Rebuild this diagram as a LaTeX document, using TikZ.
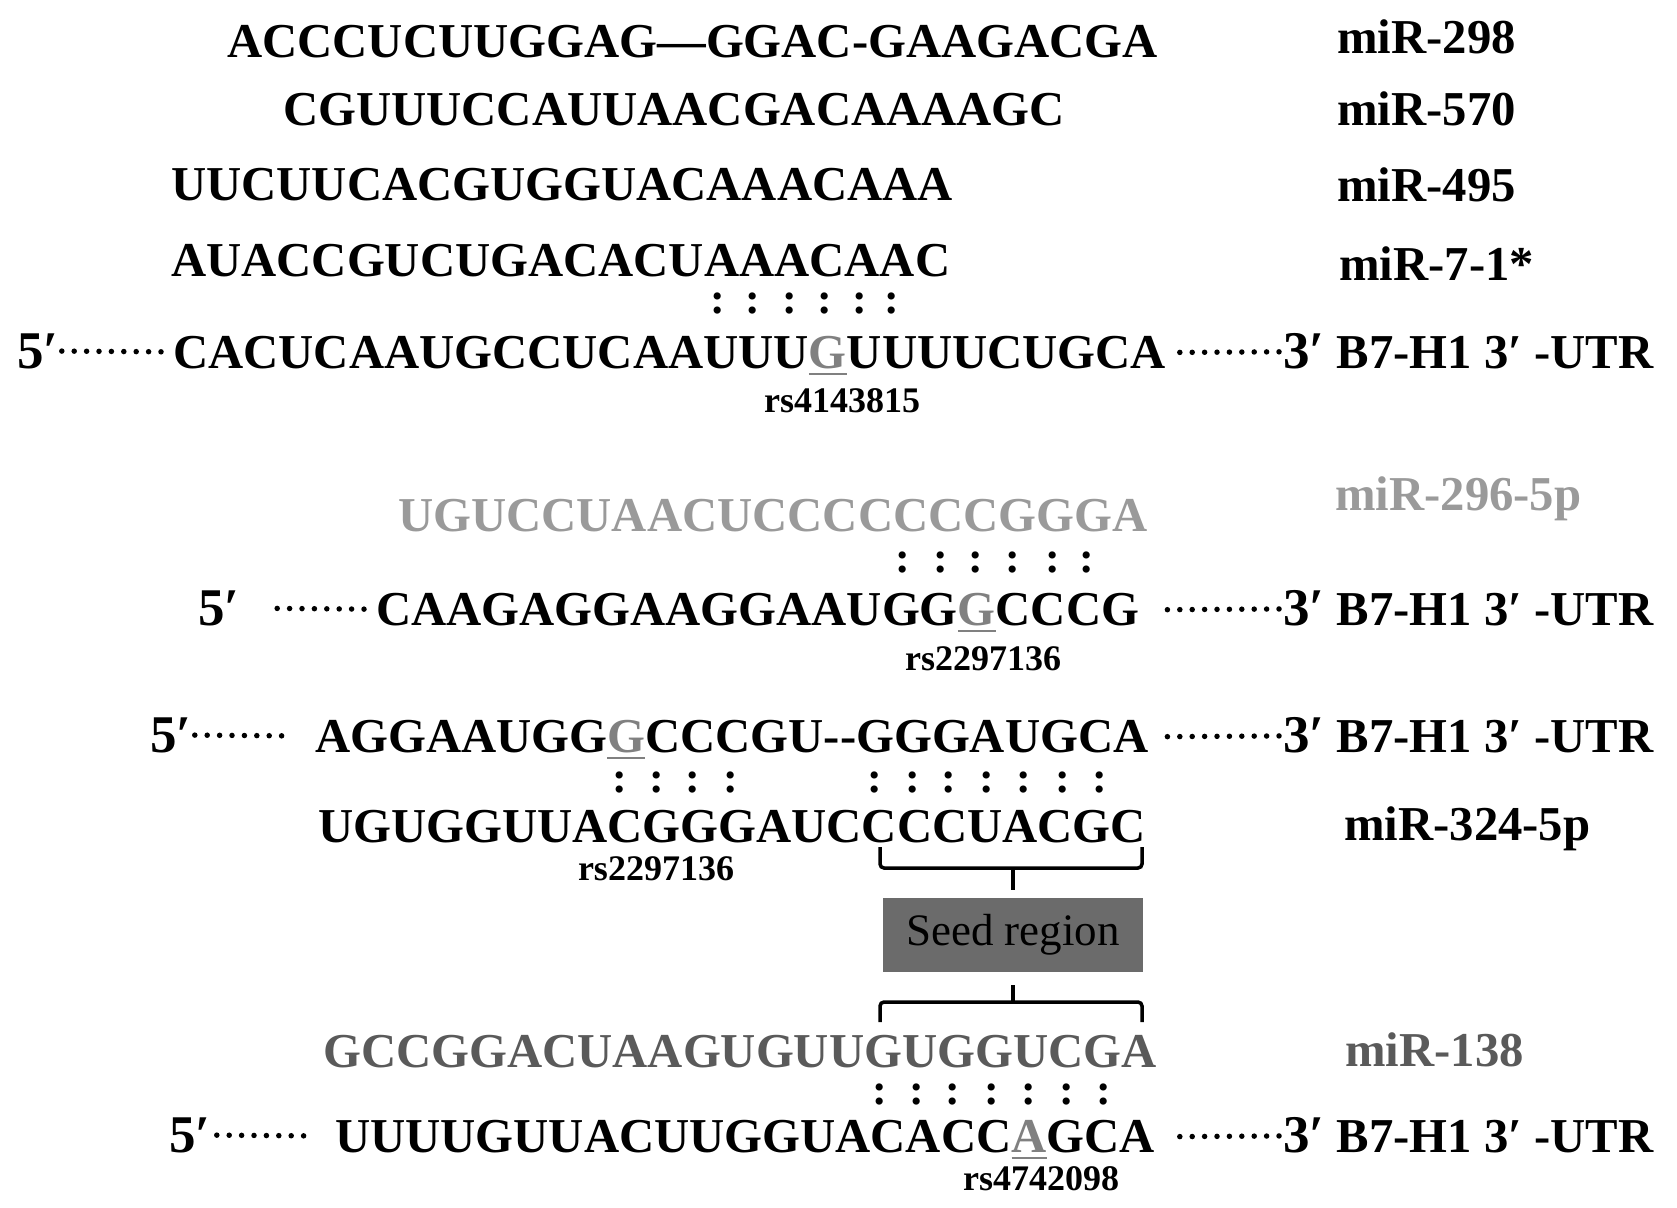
\documentclass[tikz,border=0pt]{standalone}
\usepackage{fontspec}
\setmainfont{Liberation Serif}
\usepackage{xcolor}
\usetikzlibrary{positioning}

\definecolor{mirlight}{HTML}{9A9A9A}
\definecolor{mirdark}{HTML}{5A5A5A}
\definecolor{snpgray}{HTML}{808080}
\definecolor{seedfill}{HTML}{6B6B6B}

% underlined SNP base
\newcommand{\snp}[1]{\textcolor{snpgray}{\setbox0=\hbox{#1}\rlap{\rule[-7pt]{\wd0}{2.5pt}}\box0}}

\begin{document}
\begin{tikzpicture}[
  x=1pt, y=-1pt,
  seq/.style={inner sep=0pt, anchor=base west, font=\fontsize{48.7}{50}\selectfont\bfseries},
  prime/.style={inner sep=0pt, anchor=base west, font=\fontsize{53}{55}\selectfont\bfseries},
  rsid/.style={inner sep=0pt, anchor=base, font=\fontsize{36}{38}\selectfont\bfseries},
  pair/.style={inner sep=0pt, font=\fontsize{44}{46}\selectfont\bfseries},
  leader/.style={line width=5.5pt, line cap=round, dash pattern=on 0pt off 12.4pt},
  brace/.style={line width=3.5pt, rounded corners=4pt},
  seedbox/.style={fill=seedfill, minimum width=260pt, minimum height=74pt, inner sep=0pt, font=\fontsize{45}{47}\selectfont}
]
\useasboundingbox (0,0) rectangle (1677,1207);

% first block: four miRNAs on rs4143815
\node[seq] (s298) at (227,58) {ACCCUCUUGGAG—GGAC-GAAGACGA};
\node[seq] (s570) at (283,125) {CGUUUCCAUUAACGACAAAAGC};
\node[seq] (s495) at (171,200) {UUCUUCACGUGGUACAAACAAA};
\node[seq] (s71) at (171,276) {AUACCGUCUGACACUAAACAAC};
\node[seq] (l298) at (1337,53) {miR-298};
\node[seq] (l570) at (1337,125) {miR-570};
\node[seq] (l495) at (1337,201) {miR-495};
\node[seq] (l71) at (1339,280) {miR-7-1*};
\foreach \x [count=\i] in {718,753,790,825,860,892}
  \node[pair] (pa\i) at (\x,303) {:};
\node[prime] (f5) at (17,368) {5′};
\node[seq] (s5) at (173,368) {CACUCAAUGCCUCAAUUU\snp{G}UUUUCUGCA};
\node[seq] (u5) at (1283,368) {{\fontsize{53}{55}\selectfont 3′} B7-H1 3′ -UTR};
\node[rsid] (r5) at (842,412) {rs4143815};
\draw[leader, shorten <=3pt, shorten >=10pt] (f5) -- (s5);
\draw[leader, shorten <=4pt, shorten >=12pt] (u5) -- (s5);

% miR-296-5p
\node[seq, mirlight] (s296) at (398,531) {UGUCCUAACUCCCCCCCGGGA};
\node[seq, mirlight] (l296) at (1335,510) {miR-296-5p};
\foreach \x [count=\i] in {903,941,976,1013,1053,1087}
  \node[pair] (pb\i) at (\x,562) {:};
\node[prime] (f7) at (198,625) {5′};
\node[seq] (s7) at (376,625) {CAAGAGGAAGGAAUGG\snp{G}CCCG};
\node[seq] (u7) at (1283,625) {{\fontsize{53}{55}\selectfont 3′} B7-H1 3′ -UTR};
\node[rsid] (r7) at (983,670) {rs2297136};
\draw[leader, shorten <=12pt, shorten >=30pt] (s7) -- (f7);
\draw[leader, shorten <=4pt, shorten >=22pt] (u7) -- (s7);

% miR-324-5p
\node[prime] (f8) at (150,752) {5′};
\node[seq] (s8) at (315,752) {AGGAAUGG\snp{G}CCCGU-{}-GGGAUGCA};
\node[seq] (u8) at (1283,752) {{\fontsize{53}{55}\selectfont 3′} B7-H1 3′ -UTR};
\draw[leader, shorten <=3pt, shorten >=21pt] (f8) -- (s8);
\draw[leader, shorten <=4pt, shorten >=14pt] (u8) -- (s8);
\foreach \x [count=\i] in {620,657,693,731,875,913,949,987,1024,1063,1100}
  \node[pair] (pc\i) at (\x,782) {:};
\node[seq] (s9) at (318,842) {UGUGGUUACGGGAUCCCCUACGC};
\node[seq] (l324) at (1344,840) {miR-324-5p};
\node[rsid] (r9) at (656,880) {rs2297136};

% seed region
\node[seedbox] (seed) at (1013,935) {Seed region};
\draw[brace] (880,847) |- (1142,868) -- (1142,847);
\draw[brace] (seed.north |- 0,868) -- (seed.north |- 0,890);
\draw[brace] (seed.south |- 0,985) -- (seed.south |- 0,1002);
\draw[brace] (880,1022) |- (1142,1002) -- (1142,1022);

% miR-138
\node[seq, mirdark] (s138) at (323,1067) {GCCGGACUAAGUGUUGUGGUCGA};
\node[seq, mirdark] (l138) at (1345,1066) {miR-138};
\foreach \x [count=\i] in {880,917,953,992,1029,1067,1104}
  \node[pair] (pd\i) at (\x,1094) {:};
\node[prime] (f11) at (169,1152) {5′};
\node[seq] (s11) at (335,1152) {UUUUGUUACUUGGUACACC\snp{A}GCA};
\node[seq] (u11) at (1283,1152) {{\fontsize{53}{55}\selectfont 3′} B7-H1 3′ -UTR};
\node[rsid] (r11) at (1041,1190) {rs4742098};
\draw[leader, shorten <=6pt, shorten >=19pt] (f11) -- (s11);
\draw[leader, shorten <=4pt, shorten >=23pt] (u11) -- (s11);
\end{tikzpicture}
\end{document}
